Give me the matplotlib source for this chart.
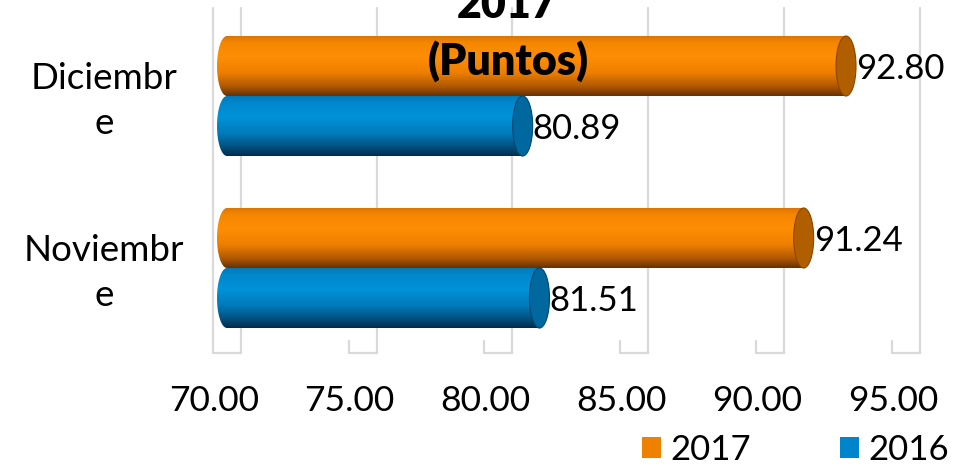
import numpy as np
import matplotlib
matplotlib.use("Agg")
import matplotlib.pyplot as plt
from matplotlib.path import Path
from matplotlib.patches import Ellipse, Patch
from matplotlib.colors import LinearSegmentedColormap
from matplotlib import transforms

months = ["Noviembre", "Diciembre"]
month_labels = ["Noviembr\ne", "Diciembr\ne"]
series_names = ["2017", "2016"]
values_2017 = [91.24, 92.80]
values_2016 = [81.51, 80.89]
x_ticks = [70, 75, 80, 85, 90, 95]
x_tick_labels = ["70.00", "75.00", "80.00", "85.00", "90.00", "95.00"]

plt.rcParams["font.family"] = ["Lato", "DejaVu Sans"]

W, H = 956, 465
DPI = 100
PX_X = 27.15   # pixels per x unit
PX_Y = 172.0   # pixels per category step

orange_cmap = LinearSegmentedColormap.from_list(
    "orange_cyl",
    [(0.0, "#D87200"), (0.12, "#F58600"), (0.35, "#FF8E05"), (0.62, "#EE7E00"),
     (0.85, "#AE5700"), (1.0, "#663100")])
blue_cmap = LinearSegmentedColormap.from_list(
    "blue_cyl",
    [(0.0, "#0078B8"), (0.12, "#0088CC"), (0.35, "#0092D8"), (0.62, "#007BBB"),
     (0.85, "#00507F"), (1.0, "#002B4C")])

grid_color = "#D9D9D9"


def draw_cylinder(ax, rect, cmap, cap_color, cap_edge, a):
    x0, y0 = rect.get_x(), rect.get_y()
    x1 = x0 + rect.get_width()
    h = rect.get_height()
    y1 = y0 + h
    yc = y0 + h / 2

    # body outline: straight right side, rounded left end
    t = np.linspace(np.pi / 2, 3 * np.pi / 2, 50)
    left = np.column_stack([x0 + a * np.cos(t), yc + h / 2 * np.sin(t)])
    verts = np.vstack([[[x1, y1]], left, [[x1, y0]], [[x1, y1]]])
    codes = [Path.MOVETO] + [Path.LINETO] * (len(verts) - 2) + [Path.CLOSEPOLY]
    body = Path(verts, codes)

    grad = np.linspace(0, 1, 256).reshape(-1, 1)
    im = ax.imshow(grad, cmap=cmap, extent=[x0 - a, x1, y0, y1], origin="upper",
                   aspect="auto", interpolation="bicubic", zorder=3)
    im.set_clip_path(body, ax.transData)

    cap = Ellipse((x1, yc), 2 * a, h, facecolor=cap_color, edgecolor=cap_edge,
                  lw=0.8, zorder=4)
    ax.add_patch(cap)
    return x1 + a, yc


fig = plt.figure(figsize=(W / DPI, H / DPI), dpi=DPI)
ax = fig.add_axes([200 / W, 109 / H, 756 / W, 356 / H])

x_lo = 70 - 27 / PX_X
x_hi = x_lo + 756 / PX_X
y_hi = 268 / PX_Y
y_lo = y_hi - 356 / PX_Y

y_pos = np.arange(len(months))
bar_h = 60 / PX_Y
cap_a = 10 / PX_X

# back wall grid lines and floor edges
back_dx = 14 / PX_X
floor_dx = 28 / PX_X
top_y = y_hi - 8 / PX_Y
floor_y = y_hi - 353 / PX_Y
for i, xt in enumerate(x_ticks):
    xb = xt + back_dx
    xf = xb - floor_dx
    ax.plot([xb, xb], [floor_y, top_y], color=grid_color, lw=1.6,
            solid_capstyle="round", zorder=1)
    front_top = top_y if i == 0 else floor_y + 12 / PX_Y
    ax.plot([xf, xf, xb], [front_top, floor_y, floor_y], color=grid_color, lw=1.6,
            solid_capstyle="round", solid_joinstyle="round", zorder=1)

bars_2017 = ax.barh(y_pos + bar_h / 2, np.array(values_2017) - 70, left=70,
                    height=bar_h, color="#F08200", zorder=2)
bars_2016 = ax.barh(y_pos - bar_h / 2, np.array(values_2016) - 70, left=70,
                    height=bar_h, color="#0086CC", zorder=2)

for rect, v in zip(bars_2017, values_2017):
    xe, yc = draw_cylinder(ax, rect, orange_cmap, "#B05E00", "#8A4500", cap_a)
    ax.text(xe, yc - 0.02, f"{v:.2f}", ha="left", va="center", fontsize=25,
            color="black", zorder=6)
for rect, v in zip(bars_2016, values_2016):
    xe, yc = draw_cylinder(ax, rect, blue_cmap, "#00679F", "#00466E", cap_a)
    ax.text(xe, yc - 0.02, f"{v:.2f}", ha="left", va="center", fontsize=25,
            color="black", zorder=6)

ax.set_xlim(x_lo, x_hi)
ax.set_ylim(y_lo, y_hi)
ax.set_xticks(x_ticks)
ax.set_xticklabels(x_tick_labels, fontsize=25.5)
ax.set_yticks([])
ax.tick_params(axis="x", length=0, pad=21)
shift = transforms.ScaledTranslation(-13 / DPI, 0, fig.dpi_scale_trans)
for lab in ax.get_xticklabels():
    lab.set_transform(lab.get_transform() + shift)
for sp in ax.spines.values():
    sp.set_visible(False)
ax.patch.set_visible(False)

# category names, wrapped like the original
cat_tr = transforms.blended_transform_factory(fig.transFigure, ax.transData)
for yp, name in zip(y_pos, month_labels):
    fig.text(104 / W, yp - 0.03, name, transform=cat_tr, ha="center", va="center",
             fontsize=26.5, linespacing=1.42, multialignment="center")

fig.text(507 / W, (H - 18) / H, "2017", ha="center", va="baseline",
         fontsize=31, fontweight="heavy", zorder=10)
fig.text(508 / W, (H - 75) / H, "(Puntos)", ha="center", va="baseline",
         fontsize=31, fontweight="heavy", zorder=10)

handles = [Patch(facecolor="#EE8100", label=series_names[0]),
           Patch(facecolor="#0084CC", label=series_names[1])]
fig.legend(handles=handles, loc="center left", bbox_to_anchor=(642 / W, 15 / H),
           ncol=2, frameon=False, fontsize=25, handlelength=0.55, handleheight=0.55,
           handletextpad=0.27, columnspacing=2.55, borderpad=0, borderaxespad=0)

fig.savefig("out.png", dpi=DPI)
